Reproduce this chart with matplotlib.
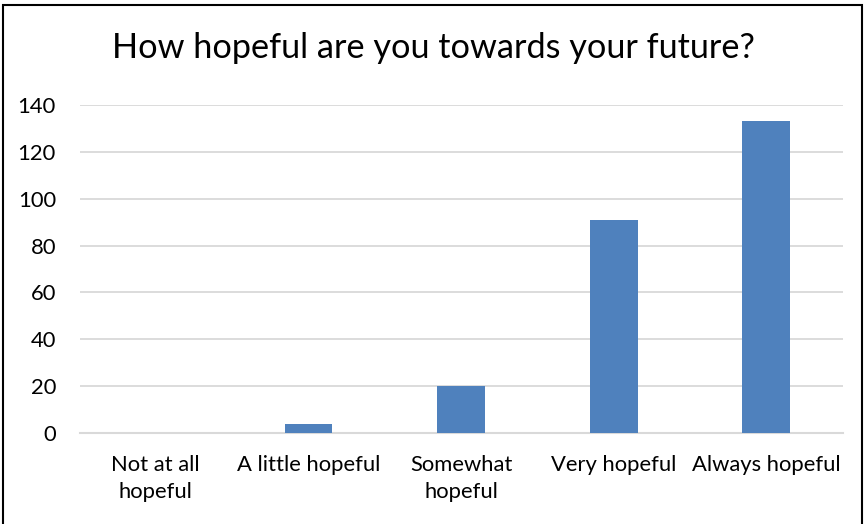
import matplotlib
matplotlib.use("Agg")
import matplotlib.pyplot as plt
from matplotlib.patches import Rectangle

categories = ["Not at all\nhopeful", "A little hopeful", "Somewhat\nhopeful", "Very hopeful", "Always hopeful"]
values = [0, 4, 20, 91, 133]
yticks = [0, 20, 40, 60, 80, 100, 120, 140]
title = "How hopeful are you towards your future?"

plt.rcParams['font.family'] = ['Lato', 'DejaVu Sans']

fig = plt.figure(figsize=(8.66, 5.24), dpi=100)
ax = fig.add_axes([79.5/866, 1-433/524, (842.6-79.5)/866, (433-105)/524])

x = list(range(len(categories)))
ax.bar(x, values, width=0.313, color="#4f81bd", zorder=3)
ax.set_xlim(-0.5, len(categories)-0.5)
ax.set_ylim(0, 140)
ax.set_yticks(yticks)
ax.set_yticklabels([str(v) for v in yticks], fontsize=15.8, color="#000000")
ax.set_xticks(x)
ax.set_xticklabels(categories, fontsize=15.8, color="#000000", linespacing=1.4, va="top")
ax.tick_params(axis="both", length=0)
ax.tick_params(axis="y", pad=17)
ax.tick_params(axis="x", pad=16)
ax.grid(axis="y", color="#d9d9d9", linewidth=1.3, zorder=0)
for s in ["top", "right", "left"]:
    ax.spines[s].set_visible(False)
ax.spines["bottom"].set_color("#d9d9d9")
ax.spines["bottom"].set_linewidth(1.5)
ax.spines["bottom"].set_zorder(2)

fig.text(0.5, 1-48/524, title, ha="center", va="center", fontsize=24.7, color="#000000")

fig.patches.append(Rectangle((3/866, -0.01), (862-3)/866, 1-5/524+0.01,
                             transform=fig.transFigure, fill=False,
                             edgecolor="#000000", linewidth=1.5))

fig.savefig("out.png", dpi=100)
